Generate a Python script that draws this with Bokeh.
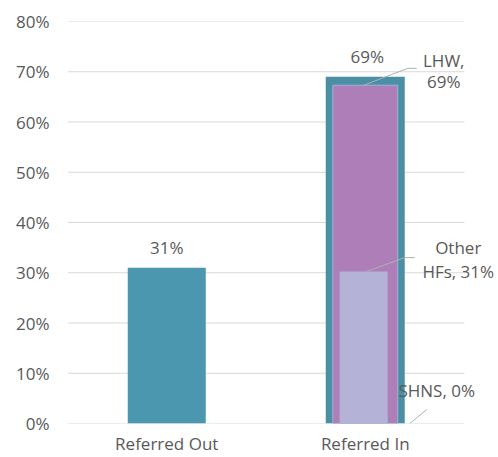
from bokeh.plotting import figure
from bokeh.models import Range1d, FixedTicker, PrintfTickFormatter, Label
from bokeh.embed import file_html
from bokeh.resources import INLINE

# ---- data ----
categories = ["Referred Out", "Referred In"]
totals = [31, 69]
sub_names = ["LHW", "Other HFs", "SHNS"]
sub_values = [69, 31, 0]
sub_label_lines = [["LHW,", "69%"], ["Other", "HFs, 31%"], ["SHNS, 0%"]]
y_ticks = [0, 10, 20, 30, 40, 50, 60, 70, 80]

FONT = "Open Sans"
TXT = "#595959"
FS = "17px"

W, H = 498, 457
ML, MR, MT, MB = 67, 0, 21, 32
GRID_W = 397                      # width of the category area in pixels
frame_w = W - ML - MR
frame_h = H - MT - MB
INNER_MAX = 82
ncat = len(categories)
px_x = GRID_W / ncat              # pixels per x unit
x_end = frame_w / px_x

p = figure(width=W, height=H, x_range=Range1d(0, x_end), y_range=Range1d(0, 80),
           output_backend="svg", toolbar_location=None,
           min_border_left=ML, min_border_right=MR, min_border_top=MT, min_border_bottom=MB)
p.extra_y_ranges = {"inner": Range1d(0, INNER_MAX)}
p.outline_line_color = None

xs = [i + 0.5 for i in range(ncat)]
px_y_inner = frame_h / INNER_MAX

# horizontal gridlines spanning the category area only
p.segment(x0=[0] * len(y_ticks), x1=[ncat] * len(y_ticks), y0=y_ticks, y1=y_ticks,
          line_color="#d9d9d9", line_width=1)

# outer bars
p.vbar(x=xs, top=totals, width=[0.393, 0.398], fill_color=["#4a97af", "#4b8fa7"],
       line_color=None)

# inner bars for the referred-in breakdown (overlapping, secondary scale)
xin = xs[1]
p.vbar(x=[xin], top=[sub_values[0]], width=0.327, fill_color="#ad7eb8",
       line_color="#9fb3d2", line_width=1, y_range_name="inner")
p.vbar(x=[xin - 0.008], top=[sub_values[1]], width=0.242, fill_color="#b4b3d7",
       line_color=None, y_range_name="inner")
p.vbar(x=[xin], top=[sub_values[2]], width=0.242, fill_color="#c9a3cf",
       line_color=None, y_range_name="inner")

# value labels of the main bars
for x, v in zip(xs, totals):
    p.add_layout(Label(x=x, y=v, text=f"{v}%", y_offset=20, x_offset=(2 if v == totals[1] else 0),
                       text_align="center", text_baseline="middle", text_font=FONT,
                       text_font_size=FS, text_color=TXT))

# leader lines (pixel offsets from each anchor)
leader_px = [[(-1.5, 0), (42.5, 17), (51.5, 17)],
             [(1.5, 0), (39.5, 14), (49.5, 14)],
             [(44.5, 0), (61.5, 14)]]
lx, ly = [], []
for v, pts in zip(sub_values, leader_px):
    lx.append([xin + dx / px_x for dx, dy in pts])
    ly.append([v + dy / px_y_inner for dx, dy in pts])
p.multi_line(xs=lx, ys=ly, line_color="#b0b0b0", line_width=1, y_range_name="inner")

# sub labels (one Label per line; offsets in pixels, up positive)
label_pos = [(78.5, [25, 4]), (93, [24, 0]), (71.5, [33])]
for v, lines, (dx, dys) in zip(sub_values, sub_label_lines, label_pos):
    for line, dy in zip(lines, dys):
        p.add_layout(Label(x=xin, y=v, text=line, x_offset=dx, y_offset=dy,
                           text_align="center", text_baseline="middle", text_font=FONT,
                           text_font_size=FS, text_color=TXT, y_range_name="inner"))

# axes
p.xaxis.ticker = FixedTicker(ticks=xs)
p.xaxis.major_label_overrides = {x: c for x, c in zip(xs, categories)}
p.yaxis.ticker = FixedTicker(ticks=y_ticks)
p.yaxis.formatter = PrintfTickFormatter(format="%d%%")
for ax in (p.xaxis, p.yaxis):
    ax.axis_line_color = None
    ax.major_tick_line_color = None
    ax.minor_tick_line_color = None
    ax.major_tick_out = 0
    ax.major_tick_in = 0
    ax.major_label_text_font = FONT
    ax.major_label_text_font_size = FS
    ax.major_label_text_color = TXT
p.yaxis.major_label_standoff = 18
p.xaxis.major_label_standoff = 8

p.xgrid.grid_line_color = None
p.ygrid.grid_line_color = None

open("out.html", "w").write(file_html(p, INLINE))
